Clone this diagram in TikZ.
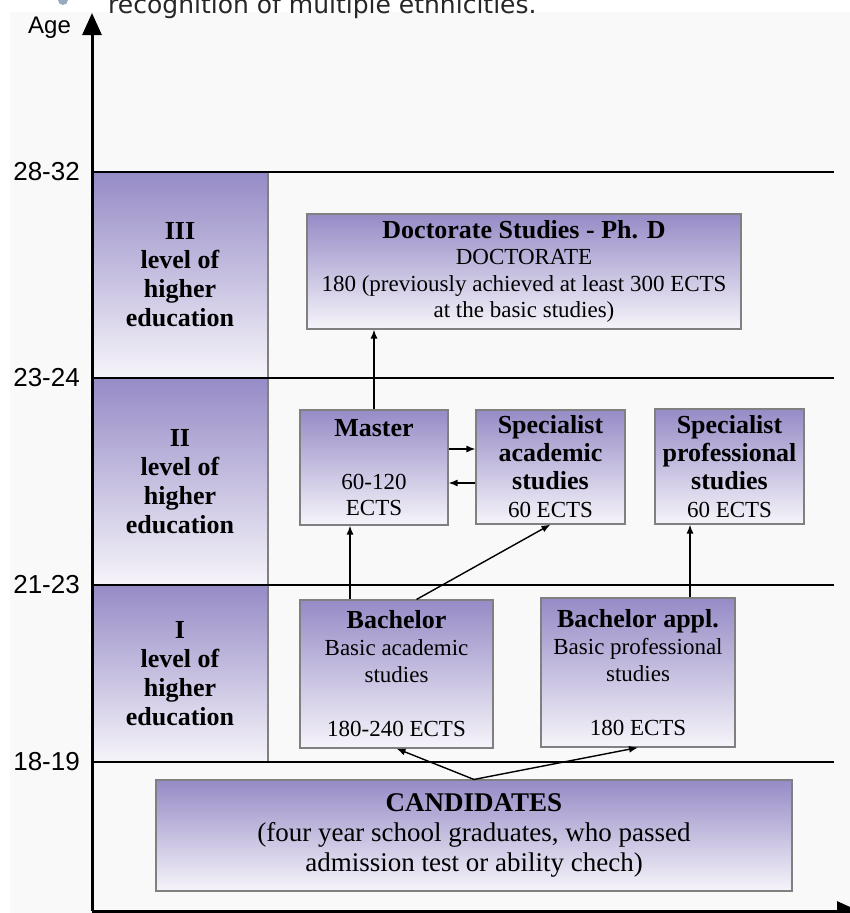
\documentclass[tikz,border=0pt]{standalone}
\usepackage{fontspec}
\setmainfont{Liberation Serif}
\newfontfamily\agefont{Liberation Sans}
\newfontfamily\topfont{DejaVu Sans}
\usetikzlibrary{arrows.meta,shadings}
\definecolor{lav}{RGB}{150,139,198}
\definecolor{lavlow}{RGB}{246,244,250}
\definecolor{backgr}{RGB}{249,249,249}
\definecolor{bulletcol}{RGB}{150,170,192}

\begin{document}
\begin{tikzpicture}[x=1pt,y=-1pt,
    >={Latex[length=9pt,width=7pt]},
    box/.style={draw=gray,line width=1.1pt,top color=lav,bottom color=lavlow,align=center,inner sep=0pt},
    levelbox/.style={box,minimum width=176pt,font=\fontsize{26}{29}\selectfont\bfseries},
    studybox/.style={box,font=\fontsize{23}{27}\selectfont},
    agelabel/.style={anchor=east,inner sep=0pt,font=\agefont\fontsize{26}{30}\selectfont},
    levelline/.style={line width=2pt},
    axisline/.style={line width=3pt,-{Triangle[length=22pt,width=19pt]}},
    arrowline/.style={draw,line width=1.4pt,->}]
    \fill[backgr] (10,12) rectangle (850,913);
    \useasboundingbox (0,0) rectangle (850,913);
    % cut off line above the figure
    \fill[bulletcol] (63,0) circle (5pt);
    \path (108,13) node(toptext)[anchor=base west,inner sep=0pt,text=black!85,font=\topfont\fontsize{25}{30}\selectfont] {recognition of multiple ethnicities.};
    % levels on the left
    \path (180,275) node(lvlthree)[levelbox,minimum height=206pt] {III\\level of\\higher\\education};
    \path (180,481.5) node(lvltwo)[levelbox,minimum height=207pt] {II\\level of\\higher\\education};
    \path (180,673.5) node(lvlone)[levelbox,minimum height=177pt] {I\\level of\\higher\\education};
    \foreach \y/\lab in {172/28-32,378/23-24,585/21-23,762/18-19}{
      \draw[levelline] (92,\y) -- (834,\y);
      \path (80,\y) node(age\y)[agelabel] {\lab};
    }
    % axes
    \path (92,911) coordinate(origin);
    \path (92,13) coordinate(agetip);
    \path (859,911) coordinate(righttip);
    \draw[axisline] (origin) -- (agetip);
    \draw[axisline] (origin) -- (righttip);
    \path (28,33) node(age)[anchor=base west,inner sep=0pt,font=\agefont\fontsize{24}{28}\selectfont] {Age};
    % studies
    \path (524,271.5) node(doc)[studybox,minimum width=434pt,minimum height=115pt,font=\fontsize{23}{26.5}\selectfont]
      {{\bfseries\fontsize{26}{26.5}\selectfont Doctorate Studies - Ph. D}\\DOCTORATE\\180 (previously achieved at least 300 ECTS\\at the basic studies)};
    \path (374,467.5) node(master)[studybox,minimum width=148pt,minimum height=115pt,font=\fontsize{23}{26.5}\selectfont]
      {{\bfseries\fontsize{26}{26.5}\selectfont Master}\\[26.5pt]60-120\\ECTS};
    \path (550.5,467) node(specac)[studybox,minimum width=149pt,minimum height=114pt,font=\fontsize{23}{28}\selectfont]
      {{\bfseries\fontsize{26}{28}\selectfont Specialist}\\{\bfseries\fontsize{26}{28}\selectfont academic}\\{\bfseries\fontsize{26}{28}\selectfont studies}\\60 ECTS};
    \path (729.5,466.5) node(specpro)[studybox,minimum width=149pt,minimum height=115pt,font=\fontsize{23}{28}\selectfont]
      {{\bfseries\fontsize{26}{28}\selectfont Specialist}\\{\bfseries\fontsize{26}{28}\selectfont professional}\\{\bfseries\fontsize{26}{28}\selectfont studies}\\60 ECTS};
    \path (396.5,674) node(bach)[studybox,minimum width=193pt,minimum height=148pt]
      {{\bfseries\fontsize{26}{27}\selectfont Bachelor}\\Basic academic\\studies\\[27pt]180-240 ECTS};
    \path (638,672.5) node(bachap)[studybox,minimum width=194pt,minimum height=149pt]
      {{\bfseries\fontsize{26}{27}\selectfont Bachelor appl.}\\Basic professional\\studies\\[27pt]180 ECTS};
    \path (474,835.5) node(cand)[studybox,minimum width=636pt,minimum height=111pt,font=\fontsize{27}{30}\selectfont]
      {{\bfseries CANDIDATES}\\(four year school graduates, who passed\\admission test or ability chech)};
    % connections
    \path ([yshift=18.5pt]master.east) coordinate(mup);
    \path ([yshift=-15.5pt]master.east) coordinate(mdown);
    \path ([xshift=-24pt]master.south) coordinate(mfoot);
    \path ([xshift=52pt]bachap.north) coordinate(bapfoot);
    \path (master.north) edge[arrowline] (master.north |- doc.south);
    \path (mup) edge[arrowline] (mup -| specac.west);
    \path (mdown -| specac.west) edge[arrowline] (mdown);
    \path (mfoot |- bach.north) edge[arrowline] (mfoot);
    \path ([xshift=20pt]bach.north) edge[arrowline] (specac.south);
    \path (bapfoot) edge[arrowline] (bapfoot |- specpro.south);
    \path (cand.north) edge[arrowline] (bach.south);
    \path (cand.north) edge[arrowline] (bachap.south);
\end{tikzpicture}
\end{document}
